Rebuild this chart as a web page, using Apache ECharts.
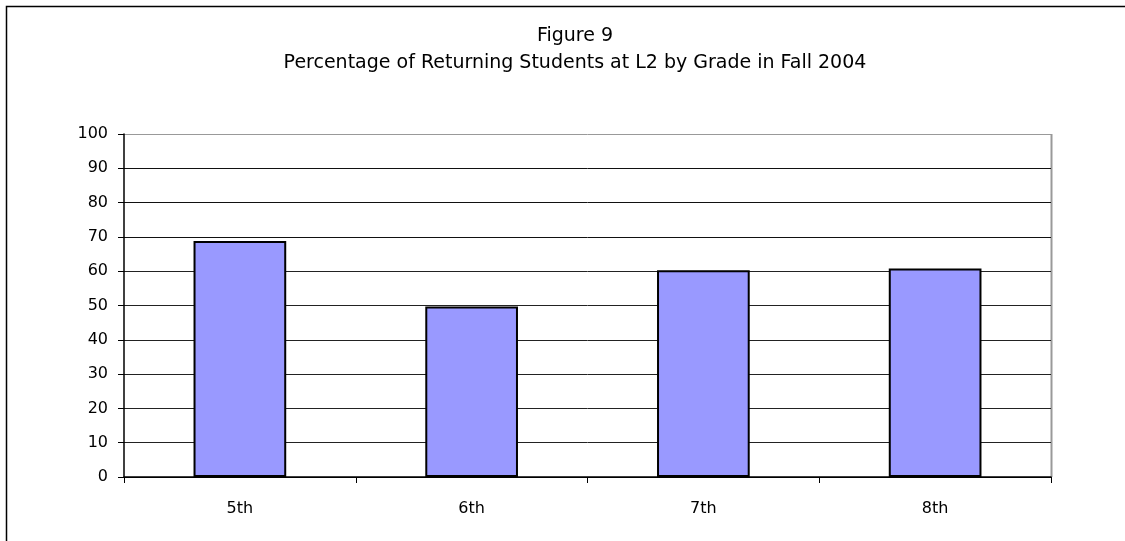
<!DOCTYPE html>
<html>
<head>
<meta charset="utf-8">
<script src="https://cdn.jsdelivr.net/npm/echarts@6/dist/echarts.min.js"></script>
<style>
  html, body { margin: 0; padding: 0; background: #fff; }
  #chart { width: 1125px; height: 541px; }
</style>
</head>
<body>
<div id="chart"></div>
<script>
// grades on the x axis
const grades = ['5th', '6th', '7th', '8th'];
// percentage of returning students at L2
const percents = [68.8, 49.7, 60.3, 60.8];
const titleLines = ['Figure 9', 'Percentage of Returning Students at L2 by Grade in Fall 2004'];

const chart = echarts.init(document.getElementById('chart'));
const font = '"DejaVu Sans", "Liberation Sans", Arial, sans-serif';

// gridline colours: the top one is the grey plot border
const gridColors = ['#000', '#222', '#222', '#222', '#222', '#222', '#222', '#111', '#111', '#111', '#999'];

chart.setOption({
  animation: false,
  backgroundColor: '#fff',
  graphic: [{
    type: 'rect',
    shape: { x: 6.5, y: 6.5, width: 1200, height: 600 },
    style: { fill: 'none', stroke: '#000', lineWidth: 1.5 },
    silent: true
  }, {
    type: 'line',
    shape: { x1: 1051.5, y1: 134, x2: 1051.5, y2: 477 },
    style: { stroke: '#999', lineWidth: 2 },
    silent: true
  }],
  title: {
    text: titleLines[0] + '\n' + titleLines[1],
    left: 570,
    top: 18,
    textAlign: 'center',
    textStyle: {
      fontFamily: font,
      fontSize: 19,
      fontWeight: 'normal',
      color: '#000',
      lineHeight: 27
    }
  },
  grid: { left: 124, right: 74, top: 134, bottom: 64 },
  xAxis: {
    type: 'category',
    data: grades,
    axisLine: { lineStyle: { color: '#000', width: 1.5 } },
    axisTick: { show: true, length: 6, lineStyle: { color: '#000' } },
    axisLabel: { fontFamily: font, fontSize: 16, color: '#000', margin: 24 }
  },
  yAxis: {
    type: 'value',
    min: 0,
    max: 100,
    interval: 10,
    axisLine: { show: true, lineStyle: { color: '#000', width: 1.5 } },
    axisTick: { show: true, length: 6, lineStyle: { color: '#000' } },
    axisLabel: { fontFamily: font, fontSize: 16, color: '#000', margin: 16 },
    splitLine: { show: true, lineStyle: { color: gridColors, width: 1 } }
  },
  series: [{
    type: 'bar',
    data: percents,
    barWidth: '40%',
    itemStyle: { color: '#9999ff', borderColor: '#000', borderWidth: 2 }
  }]
});
</script>
</body>
</html>
